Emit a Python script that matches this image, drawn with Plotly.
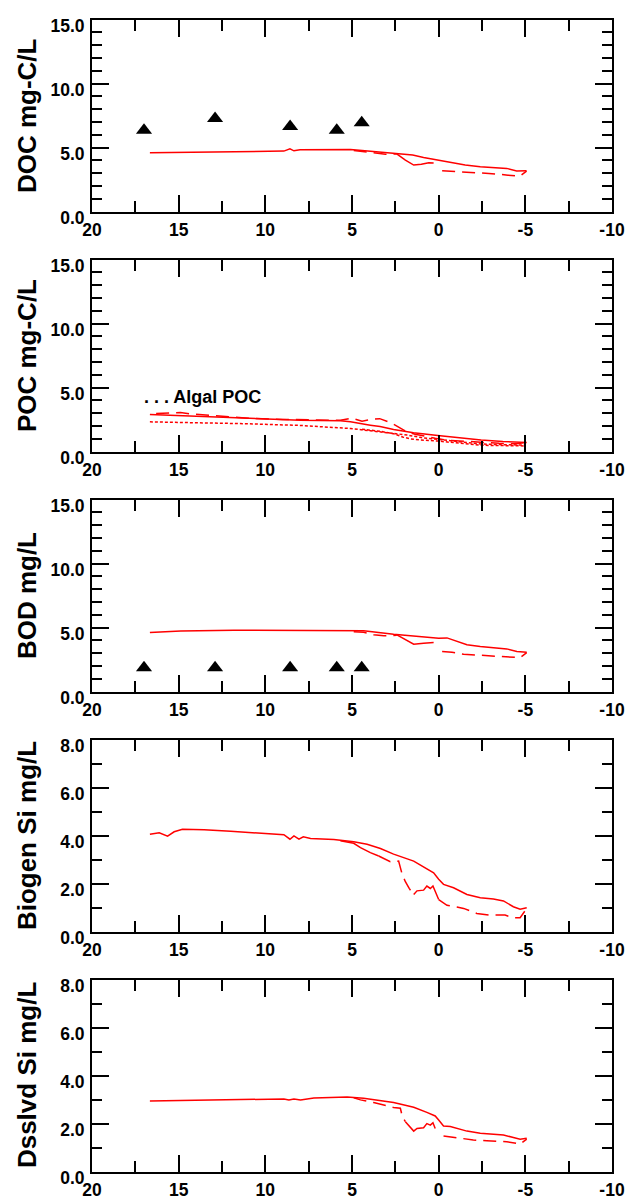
import plotly.graph_objects as go

# ------------------------------------------------------------------ data
x_tick_vals = [20, 15, 10, 5, 0, -5, -10]
x_tick_text = ["20", "15", "10", "5", "0", "-5", "-10"]
y_titles = ["DOC mg-C/L", "POC mg-C/L", "BOD mg/L", "Biogen Si mg/L", "Dsslvd Si mg/L"]
y_max = [15, 15, 15, 8, 8]
y_major = [5, 5, 5, 2, 2]
legend_text = ". . . Algal POC"

# observed data (triangles)
obs_x = [17.0, 12.9, 8.57, 5.88, 4.44]
doc_obs = [6.36, 7.27, 6.64, 6.36, 6.95]
bod_obs = [1.87, 1.87, 1.87, 1.87, 1.87]

# DOC
doc_base_x = [16.66, 15.0, 12.5, 10.0, 8.93, 8.58, 8.35, 8.0, 6.24, 5.09, 4.42, 3.5, 2.4, 1.5, 0.87, 0.0, -0.8, -1.53, -2.4, -3.93, -4.5, -5.07]
doc_base_y = [4.6, 4.62, 4.65, 4.7, 4.73, 4.9, 4.75, 4.83, 4.83, 4.86, 4.78, 4.65, 4.55, 4.42, 4.23, 4.03, 3.85, 3.64, 3.5, 3.38, 3.17, 3.2]
doc_alt_solid_x = [2.4, 1.92, 1.44, 1.0, 0.57, 0.29]
doc_alt_solid_y = [4.5, 4.03, 3.64, 3.7, 3.82, 3.8]
doc_alt_dash_x = [4.9, 4.4, 3.65, 3.07, 2.4, None, -0.2, -0.9, -1.4, -2.1, -2.9, -4.0, -4.7, -5.07]
doc_alt_dash_y = [4.78, 4.7, 4.58, 4.49, 4.5, None, 3.19, 3.15, 3.1, 3.05, 2.99, 2.85, 2.78, 3.17]

# POC
poc_base_x = [16.66, 14.0, 11.0, 8.0, 5.67, 5.09, 3.94, 3.38, 2.6, 2.23, 1.45, 0.05, -1.2, -2.45, -3.7, -4.95, -5.08]
poc_base_y = [2.9, 2.75, 2.58, 2.45, 2.41, 2.33, 2.07, 1.96, 1.74, 1.64, 1.48, 1.27, 1.07, 0.92, 0.8, 0.68, 0.72]
poc_alt_x = [16.3, 15.6, 14.9, 14.3, 13.0, 11.0, 9.0, 7.0, 5.67, 5.0, 4.42, 3.9, 3.4, 2.7, 2.23, 1.84, 1.36, 0.8, 0.2, -0.5, -1.5, -2.5, -3.5, -4.5, -5.08]
poc_alt_y = [2.98, 3.02, 3.05, 2.95, 2.8, 2.62, 2.52, 2.47, 2.45, 2.62, 2.38, 2.52, 2.58, 2.22, 1.83, 1.56, 1.36, 1.2, 1.05, 0.9, 0.8, 0.72, 0.65, 0.62, 0.72]
algal_base_x = [16.66, 14.0, 11.0, 8.0, 5.09, 3.94, 2.6, 1.8, 1.0, 0.05, -1.2, -2.45, -3.7, -4.95]
algal_base_y = [2.33, 2.28, 2.18, 2.05, 1.81, 1.63, 1.45, 1.3, 1.1, 0.95, 0.75, 0.6, 0.55, 0.52]
algal_alt_x = [4.42, 3.4, 2.6, 2.04, 1.6, 1.08, 0.05, -1.43, -2.45, -4.95]
algal_alt_y = [1.75, 1.6, 1.4, 1.13, 1.0, 0.92, 0.83, 0.6, 0.5, 0.45]

# BOD
bod_base_x = [16.66, 14.88, 11.81, 8.35, 6.05, 5.09, 4.33, 2.6, 1.2, 0.0, -0.48, -1.0, -1.63, -2.4, -3.93, -4.51, -5.08]
bod_base_y = [4.62, 4.73, 4.8, 4.8, 4.8, 4.77, 4.75, 4.49, 4.3, 4.18, 4.2, 3.95, 3.66, 3.52, 3.34, 3.13, 3.08]
bod_alt_solid_x = [2.41, 1.44, 0.87, 0.29]
bod_alt_solid_y = [4.44, 3.71, 3.79, 3.83]
bod_alt_dash_x = [4.9, 4.33, 3.75, 3.17, 2.41, None, -0.2, -0.77, -1.44, -2.0, -2.7, -4.7, -5.08]
bod_alt_dash_y = [4.67, 4.64, 4.44, 4.36, 4.4, None, 3.13, 3.08, 2.92, 2.87, 2.79, 2.66, 3.05]

# Biogenic Si
bsi_base_x = [16.66, 16.12, 15.64, 15.26, 14.78, 13.53, 12.0, 10.27, 8.93, 8.58, 8.35, 8.06, 7.81, 7.39, 6.05, 4.9, 4.13, 3.36, 2.6, 1.44, 0.87, 0.29, 0.0, -0.28, -0.86, -1.63, -2.4, -3.16, -3.74, -4.31, -4.7, -5.08]
bsi_base_y = [4.06, 4.12, 3.98, 4.16, 4.26, 4.24, 4.18, 4.11, 4.04, 3.85, 3.99, 3.85, 3.95, 3.88, 3.84, 3.74, 3.64, 3.46, 3.23, 2.94, 2.68, 2.45, 2.18, 1.97, 1.83, 1.55, 1.41, 1.36, 1.28, 1.04, 0.94, 1.0]
bsi_alt_solid_x = [5.67, 4.9, 4.51, 3.94, 3.46, None, 1.44, 1.25, 0.87, 0.68, 0.48, 0.33, 0.0]
bsi_alt_solid_y = [3.79, 3.68, 3.5, 3.29, 3.15, None, 1.55, 1.7, 1.73, 1.9, 1.8, 1.9, 1.34]
bsi_alt_dash_x = [3.46, 2.79, 2.31, 2.11, 1.92, 1.7, 1.44, None, 0.0, -0.48, -1.05, -1.44, -2.2, -2.97, -3.83, -4.31, -4.7, -5.08]
bsi_alt_dash_y = [3.15, 2.91, 2.94, 2.4, 2.08, 1.8, 1.55, None, 1.34, 1.1, 1.03, 0.97, 0.76, 0.69, 0.69, 0.58, 0.58, 0.97]

# Dissolved Si
dsi_base_x = [16.66, 12.96, 8.93, 8.64, 8.35, 7.97, 7.2, 5.28, 4.33, 2.6, 1.44, 0.68, 0.2, 0.0, -0.28, -0.67, -1.63, -2.4, -3.74, -4.31, -4.7, -5.08]
dsi_base_y = [2.94, 2.99, 3.03, 2.99, 3.03, 2.99, 3.07, 3.11, 3.06, 2.88, 2.68, 2.47, 2.32, 2.15, 1.9, 1.88, 1.69, 1.6, 1.53, 1.42, 1.35, 1.39]
dsi_alt_solid_x = [1.92, 1.73, 1.44, 1.25, 0.87, 0.68, 0.48, 0.33, 0.2]
dsi_alt_solid_y = [2.08, 1.94, 1.69, 1.8, 1.83, 2.0, 1.94, 2.04, 1.8]
dsi_alt_dash_x = [4.9, 4.51, 3.75, 2.6, 2.21, 2.1, 1.92, None, -0.28, -0.96, -1.44, -2.0, -2.78, -3.93, -4.7, -5.08]
dsi_alt_dash_y = [3.08, 2.99, 2.88, 2.67, 2.64, 2.3, 2.08, None, 1.49, 1.43, 1.39, 1.32, 1.29, 1.25, 1.15, 1.36]

# ------------------------------------------------------------------ figure
FONT = "Liberation Sans, Arial, sans-serif"
RED = "#ff0000"
W, H = 626, 1201
PL, PR = 92, 612
MT, MB = 19, 29
PH = H - MT - MB
panel_top = [19.5 + 240 * i for i in range(5)]
panel_h = 192.2


def ax_id(n):
    return "" if n == 1 else str(n)


fig = go.Figure()


def line(xs, ys, n, dash="solid"):
    fig.add_trace(go.Scatter(
        x=xs, y=ys, mode="lines", xaxis="x" + ax_id(n), yaxis="y" + ax_id(n),
        line=dict(color=RED, width=1.5, dash=dash), connectgaps=False,
        hoverinfo="skip", showlegend=False))


def tri(xs, ys, n):
    fig.add_trace(go.Scatter(
        x=xs, y=ys, mode="markers", xaxis="x" + ax_id(n), yaxis="y" + ax_id(n),
        marker=dict(symbol="triangle-up", size=14, color="black", line=dict(width=0)),
        hoverinfo="skip", showlegend=False))


DASH = "13px,7px"
DOT = "3px,2px"

# panel 1 DOC
line(doc_base_x, doc_base_y, 1)
line(doc_alt_solid_x, doc_alt_solid_y, 1)
line(doc_alt_dash_x, doc_alt_dash_y, 1, DASH)
tri(obs_x, doc_obs, 1)
# panel 2 POC
line(poc_base_x, poc_base_y, 2)
line(poc_alt_x, poc_alt_y, 2, DASH)
line(algal_base_x, algal_base_y, 2, DOT)
line(algal_alt_x, algal_alt_y, 2, DOT)
# panel 3 BOD
line(bod_base_x, bod_base_y, 3)
line(bod_alt_solid_x, bod_alt_solid_y, 3)
line(bod_alt_dash_x, bod_alt_dash_y, 3, DASH)
tri(obs_x, bod_obs, 3)
# panel 4 Biogenic Si
line(bsi_base_x, bsi_base_y, 4)
line(bsi_alt_solid_x, bsi_alt_solid_y, 4)
line(bsi_alt_dash_x, bsi_alt_dash_y, 4, DASH)
# panel 5 Dissolved Si
line(dsi_base_x, dsi_base_y, 5)
line(dsi_alt_solid_x, dsi_alt_solid_y, 5)
line(dsi_alt_dash_x, dsi_alt_dash_y, 5, DASH)

tickfont = dict(family=FONT, size=17.5, color="black", weight="bold")
layout = dict(
    width=W, height=H, autosize=False,
    margin=dict(l=PL, r=W - PR, t=MT, b=MB, pad=0, autoexpand=False),
    paper_bgcolor="white", plot_bgcolor="white",
    showlegend=False,
    font=dict(family=FONT, color="black"),
)
annotations = []
for i in range(5):
    n = i + 1
    s = ax_id(n)
    top = panel_top[i]
    bot = top + panel_h
    dom = [(H - MB - bot) / PH, (H - MB - top) / PH]
    layout["xaxis" + s] = dict(
        domain=[0, 1], anchor="y" + s, range=[20, -10], automargin=False,
        tickmode="array", tickvals=x_tick_vals, ticktext=x_tick_text,
        ticks="inside", ticklen=17, tickwidth=2, tickcolor="black",
        showline=True, linewidth=2, linecolor="black", mirror="ticks",
        showgrid=False, zeroline=False, tickfont=tickfont,
        ticklabelstandoff=1,
        minor=dict(ticks="inside", ticklen=11, tickwidth=2, tickcolor="black",
                   tickmode="linear", tick0=0, dtick=2.5, showgrid=False),
    )
    layout["yaxis" + s] = dict(
        domain=dom, anchor="x" + s, range=[0, y_max[i]], automargin=False,
        tickmode="linear", tick0=0, dtick=y_major[i], tickformat=".1f",
        ticks="inside", ticklen=17, tickwidth=2, tickcolor="black",
        showline=True, linewidth=2, linecolor="black", mirror="ticks",
        showgrid=False, zeroline=False, tickfont=tickfont,
        ticklabelshift=6, ticklabelstandoff=2,
        minor=dict(ticks="inside", ticklen=10, tickwidth=2, tickcolor="black",
                   tickmode="linear", tick0=0, dtick=1, showgrid=False),
    )
    annotations.append(dict(
        text=y_titles[i], textangle=-90, showarrow=False,
        xref="paper", x=(26.5 - PL) / (PR - PL), xanchor="center",
        yref="y" + s + " domain", y=0.5, yanchor="middle",
        font=dict(family=FONT, size=26, color="black", weight="bold"),
    ))

annotations.append(dict(
    text=legend_text, showarrow=False, xref="x2", yref="y2",
    x=13.62, y=4.28, xanchor="center", yanchor="middle",
    font=dict(family=FONT, size=18, color="black", weight="bold"),
))
layout["annotations"] = annotations
fig.update_layout(**layout)
fig.write_html(
    "out.html",
    config={"displayModeBar": False, "responsive": False},
    post_script="document.body.style.margin='0';document.body.style.padding='0';",
)
